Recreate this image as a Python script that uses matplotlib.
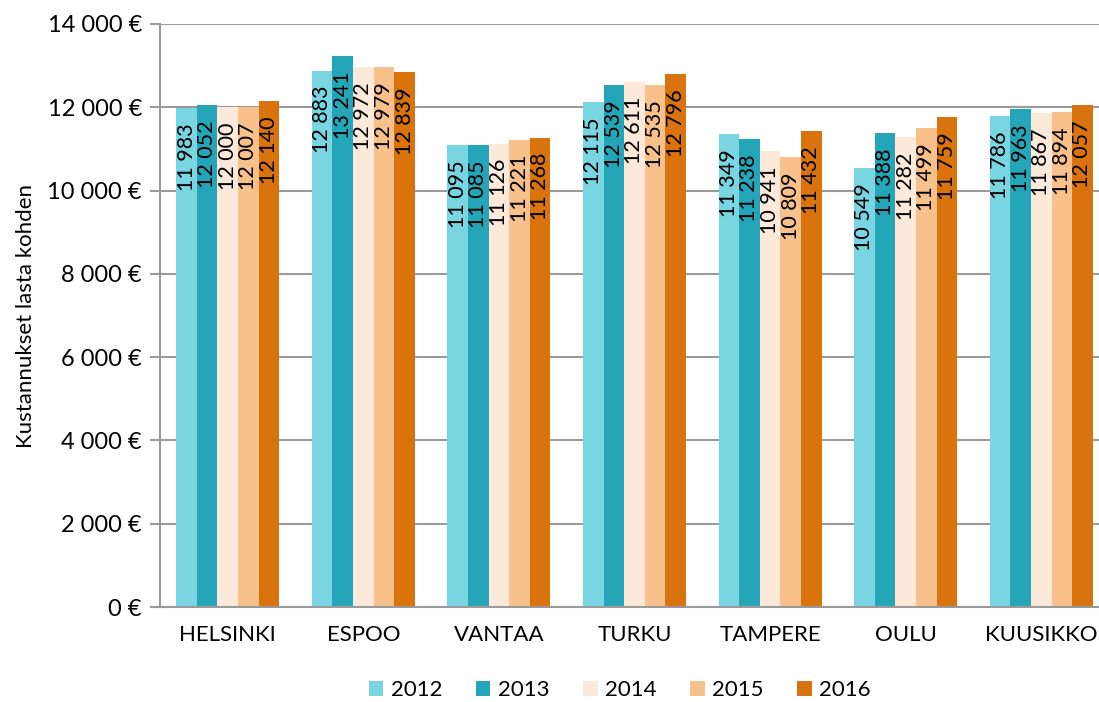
import numpy as np
import matplotlib
matplotlib.use('Agg')
import matplotlib.pyplot as plt
from matplotlib.ticker import FuncFormatter

cities = ['HELSINKI', 'ESPOO', 'VANTAA', 'TURKU', 'TAMPERE', 'OULU', 'KUUSIKKO']
years = ['2012', '2013', '2014', '2015', '2016']
v2012 = [11983, 12883, 11095, 12115, 11349, 10549, 11786]
v2013 = [12052, 13241, 11085, 12539, 11238, 11388, 11963]
v2014 = [12000, 12972, 11126, 12611, 10941, 11282, 11867]
v2015 = [12007, 12979, 11221, 12535, 10809, 11499, 11894]
v2016 = [12140, 12839, 11268, 12796, 11432, 11759, 12057]
series = [v2012, v2013, v2014, v2015, v2016]
colors = ['#79D5E2', '#25A6B8', '#FDE9D9', '#F8C08A', '#D9730D']

plt.rcParams['font.family'] = ['Lato', 'DejaVu Sans']

fig = plt.figure(figsize=(10.99, 7.02), dpi=100)
ax = fig.add_axes([160 / 1099, 95 / 702, 949 / 1099, 583 / 702])

def fmt(v):
    return f'{int(v):,}'.replace(',', ' ')

x = np.arange(len(cities))
w = 0.152
for i, vals in enumerate(series):
    pos = x + (i - 2) * w
    ax.bar(pos, vals, width=w, color=colors[i], label=years[i], zorder=3)
    for px, v in zip(pos, vals):
        ax.annotate(fmt(v), (px, v), xytext=(0, -11), textcoords='offset points',
                    rotation=90, ha='center', va='top', fontsize=15.5, zorder=4)

ax.set_xlim(-0.5, len(cities) - 0.5)
ax.set_ylim(0, 14000)
ax.set_yticks(np.arange(0, 14001, 2000))
ax.yaxis.set_major_formatter(FuncFormatter(lambda v, p: fmt(v) + ' €'))
ax.set_xticks(x)
ax.set_xticklabels(cities)
ax.tick_params(axis='x', length=0, pad=13, labelsize=16)
ax.tick_params(axis='y', length=7, width=1.5, color='#9A9A9A', pad=6, labelsize=17)
ax.grid(axis='y', color='#9A9A9A', linewidth=1.5, zorder=0)
for s in ['top', 'right']:
    ax.spines[s].set_visible(False)
ax.spines['left'].set_color('#9A9A9A')
ax.spines['left'].set_linewidth(1.5)
ax.spines['bottom'].set_color('#9A9A9A')
ax.spines['bottom'].set_linewidth(1.5)
ax.spines['bottom'].set_zorder(5)
ax.set_ylabel('Kustannukset lasta kohden', fontsize=16, labelpad=8)

fig.legend(loc='center', bbox_to_anchor=(620 / 1099, 1 - 690 / 702), ncol=5,
           frameon=False, fontsize=16, handlelength=0.65, handleheight=0.65,
           columnspacing=1.5, handletextpad=0.35)

fig.savefig('out.png', dpi=100)
